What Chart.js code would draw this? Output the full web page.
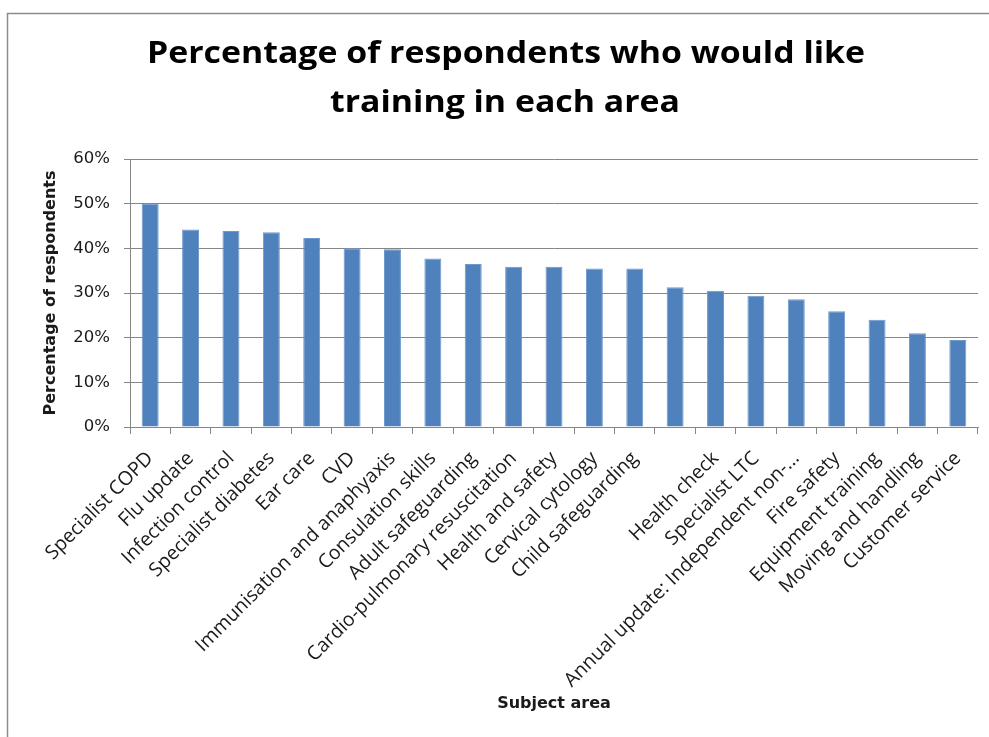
<!DOCTYPE html>
<html>
<head>
<meta charset="utf-8">
<script src="https://cdn.jsdelivr.net/npm/chart.js@4/dist/chart.umd.min.js"></script>
<style>
  html, body { margin: 0; padding: 0; background: #ffffff; }
  #wrap { width: 989px; height: 737px; }
</style>
</head>
<body>
<div id="wrap"><canvas id="c" width="989" height="737"></canvas></div>
<script>
// Subject areas (one category carries no label text)
const subjectAreas = [
  'Specialist COPD', 'Flu update', 'Infection control', 'Specialist diabetes',
  'Ear care', 'CVD', 'Immunisation and anaphyaxis', 'Consulation skills',
  'Adult safeguarding', 'Cardio-pulmonary resuscitation', 'Health and safety',
  'Cervical cytology', 'Child safeguarding', '', 'Health check',
  'Specialist LTC', 'Annual update: Independent non-...', 'Fire safety',
  'Equipment training', 'Moving and handling', 'Customer service'
];

// Percentage of respondents wanting training in each area
const respondentPct = [
  50.0, 44.2, 43.9, 43.6, 42.3, 40.0, 39.8, 37.7, 36.5, 35.9, 35.9,
  35.5, 35.5, 31.3, 30.5, 29.4, 28.6, 25.9, 24.0, 21.0, 19.5
];

// Value axis ticks
const pctTicks = [0, 10, 20, 30, 40, 50, 60];

const titleLines = ['Percentage of respondents who would like', 'training in each area'];
const yAxisTitle = 'Percentage of respondents';
const xAxisTitle = 'Subject area';

// Frame and two-line heading drawn on the canvas
const framePlugin = {
  id: 'frame',
  beforeDraw(chart) {
    const ctx = chart.ctx;
    ctx.save();
    ctx.fillStyle = '#ffffff';
    ctx.fillRect(0, 0, chart.width, chart.height);
    ctx.strokeStyle = '#8c8c8c';
    ctx.lineWidth = 1.5;
    ctx.strokeRect(7.5, 13.5, chart.width + 20, chart.height + 20);
    ctx.restore();
  },
  afterDraw(chart) {
    const ctx = chart.ctx;
    ctx.save();
    ctx.fillStyle = '#000000';
    ctx.font = 'bold 30px "Open Sans"';
    ctx.textAlign = 'center';
    ctx.textBaseline = 'alphabetic';
    // widen the heading so the first line spans 718px
    const sx = 718 / ctx.measureText(titleLines[0]).width;
    ctx.translate(506, 0);
    ctx.scale(sx, 1);
    ctx.fillText(titleLines[0], 0, 63);
    ctx.fillText(titleLines[1], -1 / sx, 112);
    ctx.restore();
  }
};

new Chart(document.getElementById('c'), {
  type: 'bar',
  data: {
    labels: subjectAreas,
    datasets: [{
      data: respondentPct,
      backgroundColor: '#4f81bd',
      borderColor: '#6e98cc',
      borderWidth: 1,
      categoryPercentage: 1.0,
      barPercentage: 0.42
    }]
  },
  options: {
    responsive: false,
    animation: false,
    devicePixelRatio: 1,
    layout: { padding: { left: 7, top: 159, right: 11, bottom: 0 } },
    plugins: {
      legend: { display: false },
      tooltip: { enabled: false }
    },
    scales: {
      x: {
        afterFit(scale) { scale.height = 310; },
        grid: {
          offset: true,
          drawOnChartArea: false,
          drawTicks: true,
          tickLength: 7,
          color: '#868686'
        },
        border: { color: '#868686', width: 1 },
        ticks: {
          autoSkip: false,
          minRotation: 45,
          maxRotation: 45,
          padding: 13,
          color: '#1a1a1a',
          font: { family: '"Open Sans"', size: 19.5 }
        },
        title: {
          display: true,
          text: xAxisTitle,
          color: '#1a1a1a',
          font: { family: '"DejaVu Sans"', size: 16, weight: 'bold' },
          padding: { top: 0, bottom: 24 }
        }
      },
      y: {
        min: 0,
        max: 60,
        afterFit(scale) { scale.width = 123; },
        afterBuildTicks(scale) { scale.ticks = pctTicks.map(v => ({ value: v })); },
        grid: {
          color: '#868686',
          lineWidth: 1,
          drawTicks: true,
          tickLength: 6
        },
        border: { color: '#868686', width: 1 },
        ticks: {
          padding: 14,
          color: '#1a1a1a',
          font: { family: '"DejaVu Sans"', size: 16.5 },
          callback: v => v + '%'
        },
        title: {
          display: true,
          text: yAxisTitle,
          color: '#1a1a1a',
          font: { family: '"DejaVu Sans"', size: 16, weight: 'bold' },
          padding: { top: 34, bottom: 0 }
        }
      }
    }
  },
  plugins: [framePlugin]
});
</script>
</body>
</html>
